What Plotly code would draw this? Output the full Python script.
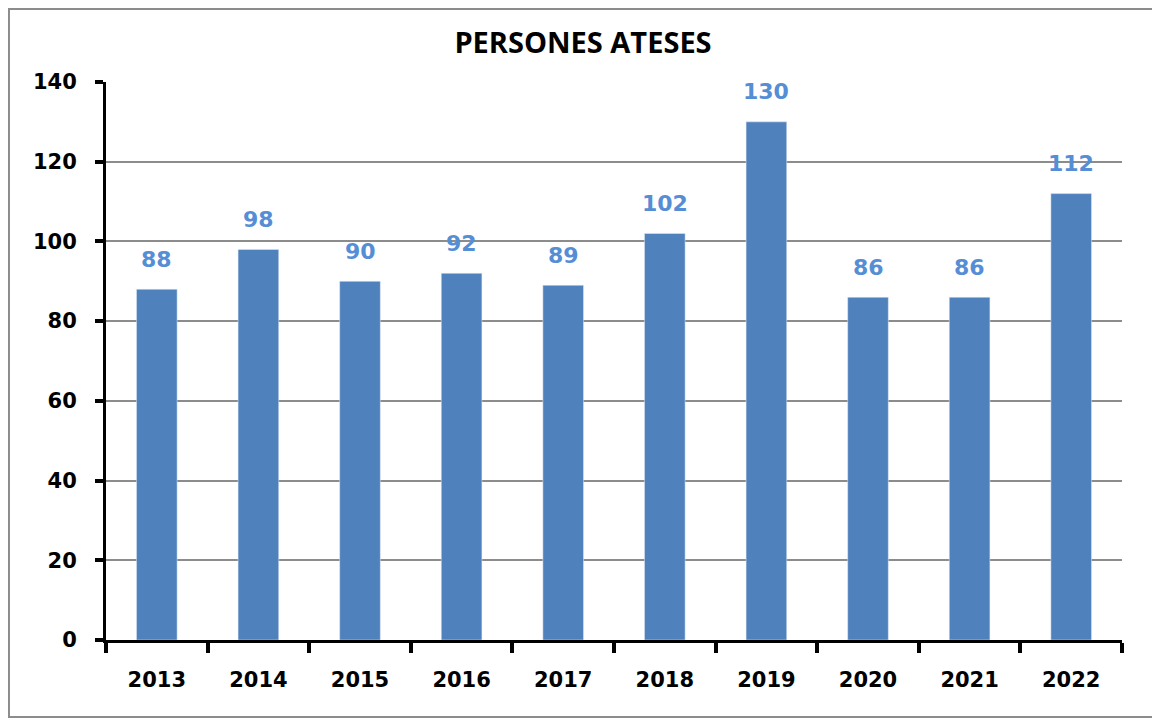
import plotly.graph_objects as go

years = ["2013", "2014", "2015", "2016", "2017", "2018", "2019", "2020", "2021", "2022"]
persons = [88, 98, 90, 92, 89, 102, 130, 86, 86, 112]

BAR_COLOR = "#4f81bd"
LABEL_COLOR = "#558ed5"
NUM_FONT = "'DejaVu Sans', sans-serif"
TITLE_FONT = "'Open Sans', sans-serif"

fig = go.Figure(go.Bar(
    x=years, y=persons,
    marker_color=BAR_COLOR,
    width=0.40,
))

# value labels above the bars (x given as category index, year strings look numeric)
for i, val in enumerate(persons):
    fig.add_annotation(
        x=i, y=val, text=f"<b>{val}</b>",
        showarrow=False, yanchor="middle", yshift=30,
        font=dict(color=LABEL_COLOR, size=22, family=NUM_FONT),
    )

# page body adds an 8px offset, margins compensate
fig.update_layout(
    title=dict(text="<b>PERSONES ATESES</b>", x=0.4957, xanchor="center",
               y=0.9515, yanchor="middle",
               font=dict(size=29, color="#000000", family=TITLE_FONT)),
    plot_bgcolor="#ffffff",
    paper_bgcolor="#ffffff",
    width=1160, height=722,
    margin=dict(l=98, r=46, t=74, b=90),
    showlegend=False,
    font=dict(family=NUM_FONT, color="#000000"),
    # outer frame, kept just inside the figure so it is not clipped
    shapes=[dict(type="rect", xref="paper", yref="paper",
                 x0=-0.0955, x1=1.0345, y0=-0.138, y1=1.131,
                 line=dict(color="#8c8c8c", width=2), layer="below")],
)
fig.update_xaxes(
    type="category",
    showline=True, linecolor="#000000", linewidth=3,
    ticks="outside", tickson="boundaries", ticklen=10, tickwidth=4, tickcolor="#000000",
    tickfont=dict(size=21, family=NUM_FONT, weight="bold"),
    tickangle=0,
    ticklabelstandoff=19,
    showgrid=False,
)
fig.update_yaxes(
    range=[0, 140], dtick=20,
    showline=True, linecolor="#000000", linewidth=3,
    ticks="outside", ticklen=8, tickwidth=4, tickcolor="#000000",
    tickfont=dict(size=21, family=NUM_FONT, weight="bold"),
    ticklabelstandoff=14,
    showgrid=True, gridcolor="#8c8c8c", gridwidth=2,
    zeroline=False,
)

fig.write_html("out.html")
